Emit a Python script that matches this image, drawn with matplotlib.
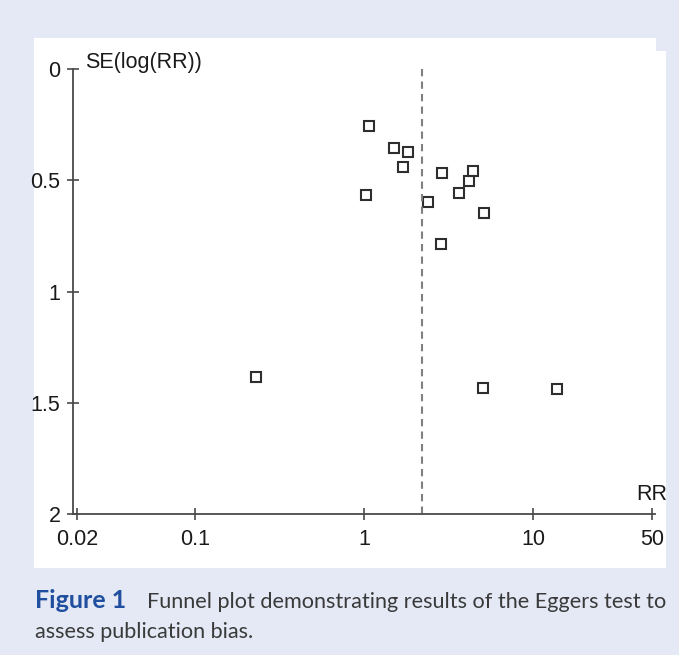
import matplotlib
matplotlib.use("Agg")
import matplotlib.pyplot as plt
from matplotlib.patches import Polygon

plt.rcParams["font.family"] = ["Liberation Sans", "DejaVu Sans"]

# study estimates
rr = [1.06, 1.49, 1.81, 1.70, 1.03, 2.87, 4.39, 4.16, 3.65, 2.39, 5.09, 2.83, 0.229, 5.04, 13.8]
se = [0.256, 0.354, 0.372, 0.439, 0.565, 0.467, 0.460, 0.502, 0.559, 0.599, 0.649, 0.787, 1.386, 1.434, 1.438]
pooled_rr = 2.19

x_ticks = [0.02, 0.1, 1, 10, 50]
x_labels = ["0.02", "0.1", "1", "10", "50"]
y_ticks = [0, 0.5, 1, 1.5, 2]
y_labels = ["0", "0.5", "1", "1.5", "2"]

W, H = 679, 655
bg = "#e4e9f5"
axis_col = "#4a4a4a"
txt_col = "#1a1a1a"

fig = plt.figure(figsize=(W / 100, H / 100), dpi=100, facecolor=bg)

# white panel behind the chart (pixel coords -> figure fraction)
panel_px = [(34, 38), (656, 38), (656, 51), (666, 51), (666, 568), (34, 568)]
panel = Polygon([(x / W, 1 - y / H) for x, y in panel_px], closed=True,
                transform=fig.transFigure, facecolor="white", edgecolor="none", zorder=-5)
fig.patches.append(panel)

ax = fig.add_axes([73 / W, 1 - 514 / H, (655 - 73) / W, (514 - 69) / H])
ax.set_facecolor("none")
ax.set_zorder(2)

ax.plot(rr, se, linestyle="none", marker="s", markersize=7.5,
        markerfacecolor="none", markeredgecolor="#2e2e2e", markeredgewidth=1.5)
ax.plot([pooled_rr, pooled_rr], [0, 2], linestyle=(0, (3.5, 2.5)), color="#808080", linewidth=1.5)

ax.set_xscale("log")
ax.set_xlim(0.0190, 52.3)
ax.set_ylim(2, 0)
ax.set_xticks(x_ticks)
ax.set_xticklabels(x_labels)
ax.minorticks_off()
ax.set_yticks(y_ticks)
ax.set_yticklabels(y_labels)

for s in ["top", "right"]:
    ax.spines[s].set_visible(False)
for s in ["left", "bottom"]:
    ax.spines[s].set_color(axis_col)
    ax.spines[s].set_linewidth(1.3)

ax.tick_params(axis="both", direction="inout", length=8, width=1.2, color=axis_col,
               labelsize=15.5, labelcolor=txt_col)
ax.tick_params(axis="x", pad=7)
ax.tick_params(axis="y", pad=5)

fig.text(85 / W, 1 - 68 / H, "SE(log(RR))", fontsize=15.5,
         color=txt_col, va="baseline", ha="left")
fig.text(667 / W, 1 - 500 / H, "RR", fontsize=15.5,
         color=txt_col, va="baseline", ha="right")

# caption
fig.text(35 / W, 1 - 608 / H, "Figure 1", fontsize=18, family="Lato", weight="bold",
         color="#1f4f9e", va="baseline", ha="left")
fig.text(147 / W, 1 - 608 / H, "Funnel plot demonstrating results of the Eggers test to",
         fontsize=15.6, family="Lato", color="#3a3a3a", va="baseline", ha="left")
fig.text(35 / W, 1 - 638 / H, "assess publication bias.",
         fontsize=15.6, family="Lato", color="#3a3a3a", va="baseline", ha="left")

plt.savefig("out.png", dpi=100, facecolor=bg)
plt.close()
